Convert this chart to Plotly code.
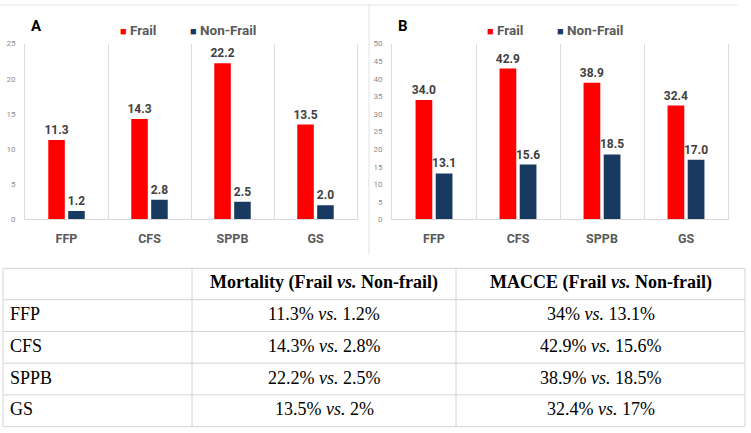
import plotly.graph_objects as go

W, H = 751, 433

categories = ["FFP", "CFS", "SPPB", "GS"]
series_names = ["Frail", "Non-Frail"]
series_colors = ["#FF0000", "#193A60"]
mortality_frail = [11.3, 14.3, 22.2, 13.5]
mortality_nonfrail = [1.2, 2.8, 2.5, 2.0]
macce_frail = [34.0, 42.9, 38.9, 32.4]
macce_nonfrail = [13.1, 15.6, 18.5, 17.0]
panel_titles = ["A", "B"]
y_ranges = [[0, 25], [0, 50]]
y_dtick = [5, 5]
table_headers = ["", "Mortality (Frail <i>vs.</i> Non-frail)", "MACCE (Frail <i>vs.</i> Non-frail)"]


def px_x(p):
    return p / W


def px_y(p):
    return 1 - p / H


panels = [
    dict(data=[mortality_frail, mortality_nonfrail], x0=25, x1=357),
    dict(data=[macce_frail, macce_nonfrail], x0=392, x1=728),
]
plot_top, plot_bottom = 40.5, 220

fig = go.Figure()
SANS = "Roboto"

for i, p in enumerate(panels):
    xa = "x" if i == 0 else "x2"
    ya = "y" if i == 0 else "y2"
    for name, color, vals in zip(series_names, series_colors, p["data"]):
        fig.add_trace(go.Bar(
            x=categories, y=vals, name=name, marker=dict(color=color, line=dict(width=0)),
            texttemplate="<b>%{y:.1f}</b>", textposition="outside", cliponaxis=False,
            constraintext="none",
            textfont=dict(family=SANS, size=12, color="#404040"),
            xaxis=xa, yaxis=ya, showlegend=False,
        ))
    axis_x = dict(
        domain=[px_x(p["x0"]), px_x(p["x1"])], type="category", range=[-0.5, 3.5],
        tickson="boundaries", showgrid=True, gridcolor="#dcdcdc", gridwidth=1,
        ticks="", showline=True, linecolor="#d9d9d9", linewidth=1,
        tickfont=dict(family=SANS, size=12.5, color="#595959", weight="bold"),
        ticklabelstandoff=8, anchor=ya, fixedrange=True,
    )
    axis_y = dict(
        domain=[px_y(plot_bottom), px_y(plot_top)], range=y_ranges[i], dtick=y_dtick[i],
        showgrid=False, zeroline=False, showline=True, mirror=True, linecolor="#dcdcdc",
        ticks="", tickfont=dict(family=SANS, size=8, color="#8c8c8c"),
        ticklabelstandoff=7, anchor=xa, fixedrange=True,
    )
    if i == 0:
        fig.update_layout(xaxis=axis_x, yaxis=axis_y)
    else:
        fig.update_layout(xaxis2=axis_x, yaxis2=axis_y)

    # panel title
    title_x = p["x0"] + 11
    fig.add_annotation(text=f"<b>{panel_titles[i]}</b>", x=px_x(title_x), y=px_y(22),
                       xref="paper", yref="paper", showarrow=False, xanchor="center", yanchor="middle",
                       font=dict(family=SANS, size=15, color="#000000"))
    # legend (annotation based)
    leg_x = [p["x0"] + 93, p["x0"] + 163]
    for name, color, lx in zip(series_names, series_colors, leg_x):
        fig.add_annotation(
            text=f"<span style='color:{color};font-size:11px'>■</span> <b>{name}</b>",
            x=px_x(lx), y=px_y(27), xref="paper", yref="paper", showarrow=False,
            xanchor="left", yanchor="middle",
            font=dict(family=SANS, size=13.5, color="#595959"))

# frame lines
fig.add_shape(type="line", x0=0, x1=px_x(738), y0=px_y(1), y1=px_y(1), xref="paper", yref="paper",
              line=dict(color="#e3e3e3", width=1))
fig.add_shape(type="line", x0=px_x(369), x1=px_x(369), y0=px_y(0), y1=px_y(256), xref="paper", yref="paper",
              line=dict(color="#e3e3e3", width=1))


# table built from the arrays
def fmt(v):
    return f"{v:g}"


col_mort = [f"{fmt(a)}% <i>vs.</i> {fmt(b)}%" for a, b in zip(mortality_frail, mortality_nonfrail)]
col_macce = [f"{fmt(a)}% <i>vs.</i> {fmt(b)}%" for a, b in zip(macce_frail, macce_nonfrail)]

col_edges = [3, 192, 456, 745]
table_top, header_h, row_h = 270, 32, 32.4
row_edges = [table_top] + [table_top + header_h + k * row_h for k in range(len(categories) + 1)]
line_style = dict(color="#d4d4d4", width=1)
for ry in row_edges:
    fig.add_shape(type="line", xref="paper", yref="paper", x0=px_x(col_edges[0]), x1=px_x(col_edges[-1]),
                  y0=px_y(ry), y1=px_y(ry), line=line_style)
for cx in col_edges:
    fig.add_shape(type="line", xref="paper", yref="paper", x0=px_x(cx), x1=px_x(cx),
                  y0=px_y(row_edges[0]), y1=px_y(row_edges[-1]), line=line_style)

SERIF = "Liberation Serif"
rows = [table_headers] + [[c, m, a] for c, m, a in zip(categories, col_mort, col_macce)]
for r, row in enumerate(rows):
    yc = (row_edges[r] + row_edges[r + 1]) / 2 - 1.5
    for c, txt in enumerate(row):
        if not txt:
            continue
        if r == 0:
            txt = f"<b>{txt}</b>"
        if c == 0:
            x, anchor = col_edges[0] + 5, "left"
        else:
            x, anchor = (col_edges[c] + col_edges[c + 1]) / 2, "center"
        fig.add_annotation(text=txt, x=px_x(x), y=px_y(yc), xref="paper", yref="paper",
                           showarrow=False, xanchor=anchor, yanchor="middle",
                           font=dict(family=SERIF, size=18, color="black"))

fig.update_layout(
    width=W, height=H, margin=dict(l=0, r=0, t=0, b=0),
    paper_bgcolor="white", plot_bgcolor="white",
    barmode="group", bargap=0.52, bargroupgap=0.17, showlegend=False,
)

fig.write_html("out.html")
